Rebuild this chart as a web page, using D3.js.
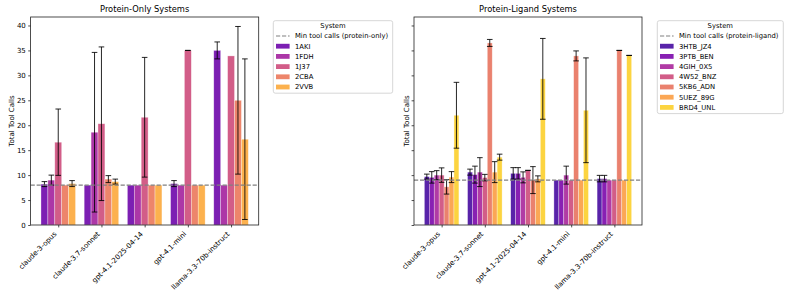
<!DOCTYPE html>
<html><head><meta charset="utf-8">
<script src="https://cdn.jsdelivr.net/npm/d3@7"></script>
<style>body{margin:0;background:#fff} svg{display:block;font-family:"DejaVu Sans",sans-serif}</style>
</head><body><svg id="c" width="793" height="297"></svg>
<script>
// ---------- data ----------
const models = ["claude-3-opus","claude-3.7-sonnet","gpt-4.1-2025-04-14","gpt-4.1-mini","llama-3.3-70b-instruct"];
const yTicks = [0,5,10,15,20,25,30,35,40];

const proteinSystems = ["1AKI","1FDH","1J37","2CBA","2VVB"];
// one row per system, one value per model
const proteinMeans = [
  [8.2, 8.0, 8.0, 8.3, 35.0],
  [9.0, 18.6, 8.0, 8.0, 8.0],
  [16.6, 20.3, 21.6, 35.0, 33.9],
  [8.0, 9.2, 8.0, 8.0, 25.0],
  [8.3, 8.7, 8.0, 8.0, 17.2]
];
const proteinErrs = [
  [0.5, null, null, 0.6, 1.7],
  [1.0, 16.0, null, null, null],
  [6.65, 15.4, 12.0, 0, null],
  [null, 0.7, null, null, 14.8],
  [0.6, 0.5, null, null, 16.1]
];
const proteinMin = 8;

const ligandSystems = ["3HTB_JZ4","3PTB_BEN","4GIH_0X5","4W52_BNZ","5KB6_ADN","5UEZ_89G","BRD4_UNL"];
const ligandMeans = [
  [9.7, 10.6, 10.35, 9.0, 9.3],
  [9.55, 10.1, 10.35, 9.0, 9.3],
  [10.0, 10.6, 9.55, 10.0, 9.0],
  [10.0, 9.5, 10.95, 9.0, 9.0],
  [7.65, 36.5, 9.0, 33.9, 35.0],
  [9.6, 10.6, 9.25, 9.0, 9.0],
  [22.0, 13.6, 29.3, 23.0, 34.0]
];
const ligandErrs = [
  [0.5, 0.6, 1.15, null, 0.65],
  [1.15, 1.7, 1.15, null, 0.65],
  [0.9, 2.9, 1.1, 1.8, null],
  [1.45, 0.65, 0, null, null],
  [1.45, 0.7, 2.7, 1.0, 0],
  [1.1, 2.1, 0.6, null, null],
  [6.6, 0.6, 8.1, 10.5, 0]
];
const ligandMin = 9;

// ---------- layout ----------
const svg = d3.select("#c");
const FONT = "DejaVu Sans";
const yTop = 17, yBot = 225;
const y = d3.scaleLinear().domain([0, 41.7]).range([yBot, yTop]);

const panels = [
  {title:"Protein-Only Systems", x0:30.6, x1:258.7, systems:proteinSystems, means:proteinMeans, errs:proteinErrs,
   minVal:proteinMin, minLabel:"Min tool calls (protein-only)", cmap:[0.2,0.8], tickLabels:true, ylabelX:13.6,
   legend:{x:273.3, y:20.7, w:119.4}},
  {title:"Protein-Ligand Systems", x0:414, x1:642, systems:ligandSystems, means:ligandMeans, errs:ligandErrs,
   minVal:ligandMin, minLabel:"Min tool calls (protein-ligand)", cmap:[0.1,0.9], tickLabels:false, ylabelX:408.6,
   legend:{x:657.3, y:20.7, w:126}}
];

panels.forEach(p => {
  const n = p.systems.length;
  const bw = 0.8 / n;
  const lo = -0.4, hi = models.length - 1 + 0.4, m = 0.05 * (hi - lo);
  const x = d3.scaleLinear().domain([lo - m, hi + m]).range([p.x0, p.x1]);
  const colors = p.systems.map((s, i) => d3.interpolatePlasma(p.cmap[0] + (p.cmap[1] - p.cmap[0]) * i / (n - 1)));
  const g = svg.append("g");

  // bars
  p.systems.forEach((s, si) => {
    const off = (si - (n - 1) / 2) * bw;
    g.append("g").selectAll("rect").data(p.means[si]).join("rect")
      .attr("x", (d, mi) => x(mi + off - bw / 2))
      .attr("width", x(bw) - x(0))
      .attr("y", d => y(d))
      .attr("height", d => y(0) - y(d))
      .attr("fill", colors[si]).attr("fill-opacity", 0.88)
      .attr("stroke", "#fff").attr("stroke-opacity", 0.55).attr("stroke-width", 0.6);
  });
  // error bars
  p.systems.forEach((s, si) => {
    const off = (si - (n - 1) / 2) * bw;
    p.means[si].forEach((d, mi) => {
      const e = p.errs[si][mi];
      if (e === null) return;
      const cx = x(mi + off);
      const eg = g.append("g").attr("stroke", "#000").attr("stroke-opacity", 0.85).attr("stroke-width", 1);
      eg.append("line").attr("x1", cx).attr("x2", cx).attr("y1", y(d - e)).attr("y2", y(d + e));
      [d - e, d + e].forEach(v => eg.append("line").attr("x1", cx - 2.8).attr("x2", cx + 2.8).attr("y1", y(v)).attr("y2", y(v)));
    });
  });
  // min line
  g.append("line").attr("x1", p.x0).attr("x2", p.x1).attr("y1", y(p.minVal)).attr("y2", y(p.minVal))
    .attr("stroke", "#808080").attr("stroke-width", 1.2).attr("stroke-dasharray", "4.2,1.8");

  // frame
  g.append("rect").attr("x", p.x0).attr("y", yTop).attr("width", p.x1 - p.x0).attr("height", yBot - yTop)
    .attr("fill", "none").attr("stroke", "#222").attr("stroke-width", 0.8);

  // y axis
  const ya = d3.axisLeft(y).tickValues(yTicks).tickSize(2.4).tickPadding(2.4).tickFormat(p.tickLabels ? d3.format("d") : () => "");
  const yg = g.append("g").attr("transform", `translate(${p.x0},0)`).call(ya);
  yg.select(".domain").remove();
  yg.selectAll("line").attr("stroke", "#222").attr("stroke-width", 0.8);
  yg.selectAll("text").attr("font-family", FONT).attr("font-size", 7).attr("fill", "#000");

  // x axis
  const xa = d3.axisBottom(x).tickValues(d3.range(models.length)).tickSize(2.4).tickFormat(() => "");
  const xg = g.append("g").attr("transform", `translate(0,${yBot})`).call(xa);
  xg.select(".domain").remove();
  xg.selectAll("line").attr("stroke", "#222").attr("stroke-width", 0.8);
  models.forEach((mname, mi) => {
    g.append("text").attr("transform", `translate(${x(mi)},${yBot + 4.8 + 5.8}) rotate(-45)`)
      .attr("text-anchor", "end").attr("y", -1.6)
      .attr("font-family", FONT).attr("font-size", 7.05).attr("fill", "#000").text(mname);
  });

  // y label
  g.append("text").attr("transform", `translate(${p.ylabelX},${(yTop + yBot) / 2}) rotate(-90)`)
    .attr("text-anchor", "middle").attr("font-family", FONT).attr("font-size", 7).text("Total Tool Calls");

  // title
  g.append("text").attr("x", (p.x0 + p.x1) / 2).attr("y", 12.4).attr("text-anchor", "middle")
    .attr("font-family", FONT).attr("font-size", 8.3).text(p.title);

  // legend
  const L = p.legend, rowH = 10.2, fs = 6.8;
  const lh = 15.3 + rowH * (n + 1) - 4;
  const lg = svg.append("g");
  lg.append("rect").attr("x", L.x).attr("y", L.y).attr("width", L.w).attr("height", lh).attr("rx", 2)
    .attr("fill", "#fff").attr("fill-opacity", 0.8).attr("stroke", "#cccccc").attr("stroke-width", 0.8);
  lg.append("text").attr("x", L.x + L.w / 2).attr("y", L.y + 7.7).attr("text-anchor", "middle")
    .attr("font-family", FONT).attr("font-size", fs).text("System");
  const hx = L.x + 2.7, hw = 13.6, tx = hx + hw + 5.4;
  const cy0 = L.y + 15.3;
  lg.append("line").attr("x1", hx).attr("x2", hx + hw).attr("y1", cy0).attr("y2", cy0)
    .attr("stroke", "#808080").attr("stroke-width", 1.2).attr("stroke-dasharray", "4.2,1.8");
  lg.append("text").attr("x", tx).attr("y", cy0 + 2.4).attr("font-family", FONT).attr("font-size", fs).text(p.minLabel);
  p.systems.forEach((s, si) => {
    const cy = cy0 + rowH * (si + 1);
    lg.append("rect").attr("x", hx).attr("y", cy - 2.4).attr("width", hw).attr("height", 4.8)
      .attr("fill", colors[si]).attr("fill-opacity", 0.88);
    lg.append("text").attr("x", tx).attr("y", cy + 2.4).attr("font-family", FONT).attr("font-size", fs).text(s);
  });
});
</script></body></html>
